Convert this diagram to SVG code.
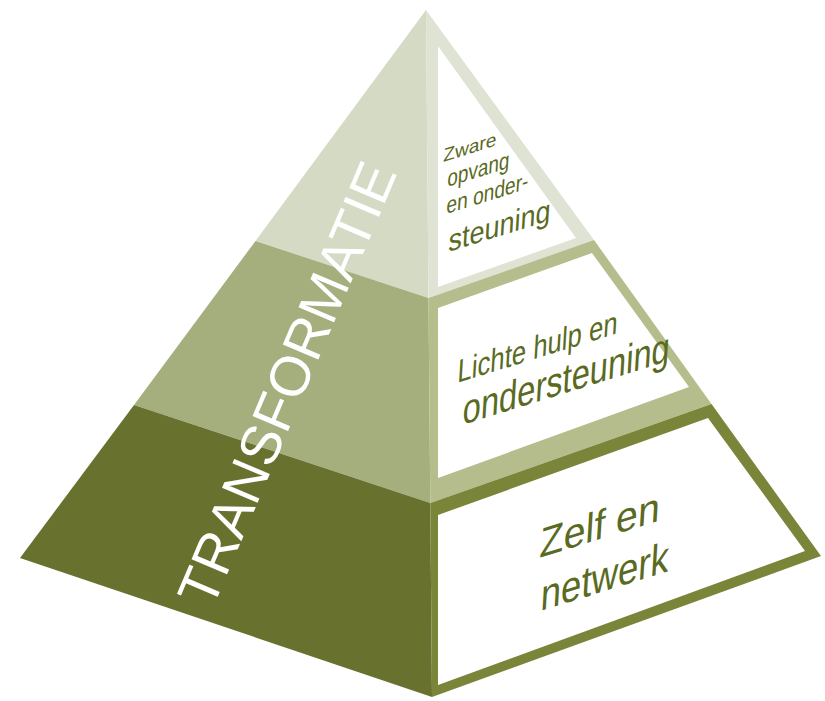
<svg xmlns="http://www.w3.org/2000/svg" width="825" height="701" viewBox="0 0 825 701">
<style>
.lbl{font-family:"Liberation Sans",Arial,sans-serif;fill:#5a6a22;}
.big{font-family:"Liberation Sans",Arial,sans-serif;fill:#ffffff;}
.w{fill:#ffffff;}
</style>
<rect width="825" height="701" fill="#ffffff"/>
<g id="tier-top">
  <polygon points="426,10 255.5,241 428.5,298" fill="#d4dac3"/>
  <polygon points="426,10 594,240 428.5,298" fill="#dfe3d3"/>
  <polygon points="438,46 576,238 438,287" class="w"/>
  <g class="lbl">
    <text transform="matrix(1,-0.31,-0.06,1,443,162)" font-size="19" textLength="53" lengthAdjust="spacingAndGlyphs">Zware</text>
    <text transform="matrix(1,-0.31,-0.06,1,447,187)" font-size="24" textLength="62" lengthAdjust="spacingAndGlyphs">opvang</text>
    <text transform="matrix(1,-0.31,-0.06,1,446,214)" font-size="24" textLength="82" lengthAdjust="spacingAndGlyphs">en onder-</text>
    <text transform="matrix(1,-0.31,-0.06,1,448,252)" font-size="31" textLength="102" lengthAdjust="spacingAndGlyphs">steuning</text>
  </g>
</g>
<g id="tier-middle">
  <polygon points="255.5,241 428.5,298 430.3,503 134,405" fill="#a5ae7d"/>
  <polygon points="428.5,298 594,240 711.5,404 430.3,503" fill="#b5bd8c"/>
  <polygon points="438,308 592,253 689,387 438,478" class="w"/>
  <g class="lbl">
    <text transform="matrix(1,-0.31,-0.06,1,457,383)" font-size="33" textLength="160" lengthAdjust="spacingAndGlyphs">Lichte hulp en</text>
    <text transform="matrix(1,-0.31,-0.06,1,462,425)" font-size="42" textLength="207" lengthAdjust="spacingAndGlyphs">ondersteuning</text>
  </g>
</g>
<g id="tier-bottom">
  <polygon points="134,405 430.3,503 432,697 20,558" fill="#68722e"/>
  <polygon points="430.3,503 711.5,404 821,556 432,697" fill="#7a853a"/>
  <polygon points="438,515 708,418 805,551 438,685" class="w"/>
  <g class="lbl">
    <text transform="matrix(1,-0.31,-0.06,1,539,558)" font-size="42" textLength="120" lengthAdjust="spacingAndGlyphs">Zelf en</text>
    <text transform="matrix(1,-0.31,-0.06,1,540,611)" font-size="44" textLength="128" lengthAdjust="spacingAndGlyphs">netwerk</text>
  </g>
</g>
<g id="label-transformatie">
  <text class="big" transform="translate(212,610) rotate(-67)" font-size="56" textLength="475" lengthAdjust="spacingAndGlyphs">TRANSFORMATIE</text>
</g>
<g id="connectors"></g>
</svg>
